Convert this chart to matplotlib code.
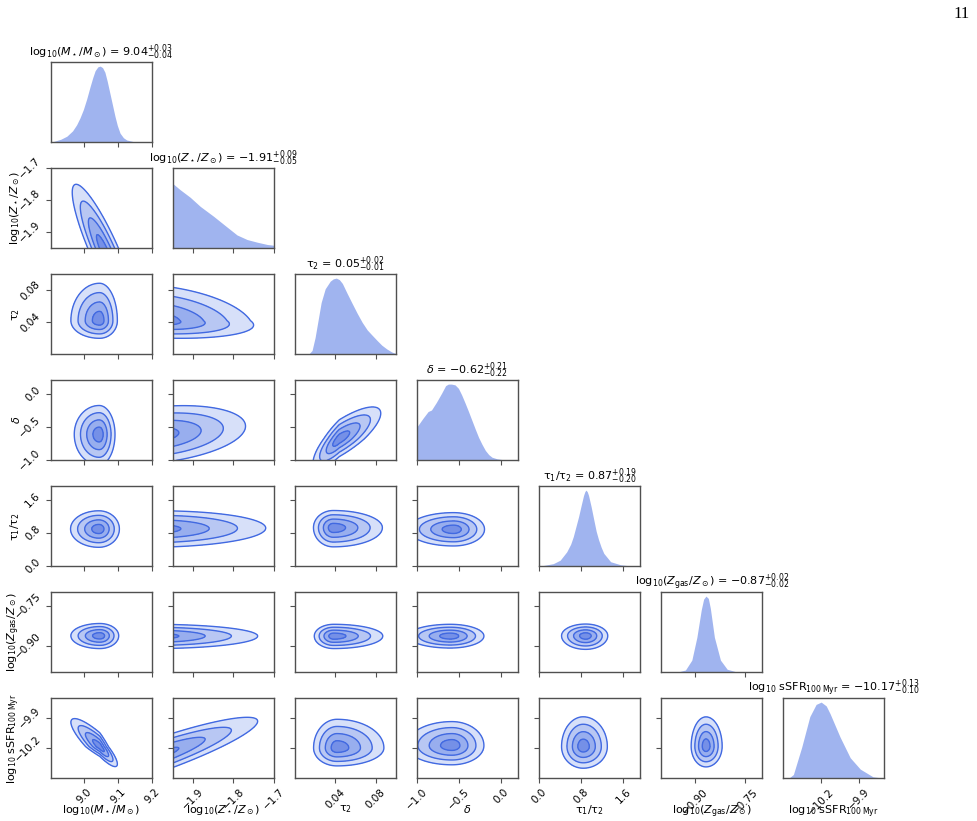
import numpy as np
import matplotlib
matplotlib.use("Agg")
import matplotlib.pyplot as plt

# Parameter labels, plot ranges and ticks
labels = [r"log$_{10}(M_\star/M_\odot)$", r"log$_{10}(Z_\star/Z_\odot)$", r"τ$_2$", r"$\delta$",
          r"τ$_1$/τ$_2$", r"log$_{10}(Z_{\rm gas}/Z_\odot)$", r"log$_{10}$ sSFR$_{100\,\rm Myr}$"]
lo = [8.9, -1.95, 0.0, -1.0, 0.0, -1.0, -10.5]
hi = [9.2, -1.70, 0.10, 0.2, 1.92, -0.70, -9.7]
ticks = [[9.0, 9.1, 9.2], [-1.9, -1.8, -1.7], [0.04, 0.08], [-1.0, -0.5, 0.0],
         [0.0, 0.8, 1.6], [-0.90, -0.75], [-10.2, -9.9]]
tick_labels = [["9.0", "9.1", "9.2"], ["−1.9", "−1.8", "−1.7"], ["0.04", "0.08"],
               ["−1.0", "−0.5", "0.0"], ["0.0", "0.8", "1.6"], ["−0.90", "−0.75"],
               ["−10.2", "−9.9"]]

# Median and credible interval shown in the titles
med = ["9.04", "-1.91", "0.05", "-0.62", "0.87", "-0.87", "-10.17"]
err_hi = ["0.03", "0.09", "0.02", "0.21", "0.19", "0.02", "0.13"]
err_lo = ["0.04", "0.05", "0.01", "0.22", "0.20", "0.02", "0.10"]

# 1D marginals (relative density)
m_x = [8.90, 8.908, 8.93, 8.948, 8.965, 8.977, 8.987, 8.997, 9.007, 9.017, 9.025, 9.032, 9.040,
       9.047, 9.054, 9.061, 9.068, 9.076, 9.084, 9.091, 9.098, 9.106, 9.116, 9.126, 9.145, 9.165, 9.20]
m_y = [0.005, 0.01, 0.04, 0.08, 0.15, 0.23, 0.32, 0.43, 0.57, 0.73, 0.85, 0.94, 0.99,
       1.0, 0.98, 0.92, 0.80, 0.64, 0.48, 0.34, 0.22, 0.12, 0.06, 0.03, 0.01, 0.0, 0.0]
z_x = [-1.95, -1.932, -1.907, -1.882, -1.849, -1.816, -1.791, -1.766, -1.741, -1.716, -1.70]
z_y = [0.85, 0.77, 0.67, 0.55, 0.42, 0.28, 0.175, 0.115, 0.08, 0.05, 0.04]
t2_x = [0.0, 0.0135, 0.017, 0.020, 0.023, 0.026, 0.030, 0.035, 0.038, 0.041, 0.044, 0.047,
        0.0517, 0.0566, 0.0616, 0.0666, 0.0716, 0.0765, 0.0815, 0.086, 0.091, 0.096, 0.10]
t2_y = [0.0, 0.0, 0.05, 0.22, 0.45, 0.68, 0.86, 0.96, 0.99, 1.0, 0.98, 0.93, 0.80, 0.67, 0.54,
        0.42, 0.32, 0.25, 0.18, 0.12, 0.07, 0.03, 0.01]
d_x = [-1.0, -0.93, -0.868, -0.828, -0.77, -0.708, -0.66, -0.628, -0.59, -0.548, -0.508, -0.47,
       -0.428, -0.388, -0.348, -0.308, -0.268, -0.228, -0.188, -0.148, -0.108, -0.05, 0.012, 0.2]
d_y = [0.44, 0.55, 0.64, 0.66, 0.76, 0.88, 0.98, 1.0, 1.0, 0.99, 0.945, 0.86, 0.75, 0.64, 0.525,
       0.41, 0.30, 0.21, 0.13, 0.075, 0.04, 0.02, 0.01, 0.0]
r_x = [0.0, 0.077, 0.27, 0.40, 0.525, 0.60, 0.65, 0.70, 0.75, 0.80, 0.845, 0.87, 0.89, 0.915,
       0.94, 0.99, 1.04, 1.085, 1.13, 1.18, 1.23, 1.36, 1.55, 1.80, 1.92]
r_y = [0.0, 0.01, 0.035, 0.08, 0.19, 0.29, 0.39, 0.52, 0.65, 0.80, 0.93, 0.98, 1.0, 0.98,
       0.93, 0.78, 0.61, 0.46, 0.35, 0.25, 0.17, 0.06, 0.02, 0.0, 0.0]
g_x = [-1.0, -0.95, -0.928, -0.909, -0.894, -0.881, -0.874, -0.867, -0.860, -0.854, -0.842,
       -0.824, -0.804, -0.78, -0.70]
g_y = [0.0, 0.005, 0.03, 0.16, 0.46, 0.82, 0.96, 1.0, 0.97, 0.84, 0.46, 0.16, 0.04, 0.01, 0.0]
s_x = [-10.5, -10.45, -10.42, -10.354, -10.29, -10.24, -10.2, -10.16, -10.13, -10.05, -9.97,
       -9.89, -9.79, -9.7]
s_y = [0.0, 0.01, 0.05, 0.41, 0.81, 0.97, 1.0, 0.95, 0.85, 0.54, 0.27, 0.12, 0.02, 0.0]
marg_x = [m_x, z_x, t2_x, d_x, r_x, g_x, s_x]
marg_y = [m_y, z_y, t2_y, d_y, r_y, g_y, s_y]

# 2D panels: centre, split widths and correlation of each joint posterior
pair_row = [1, 2, 3, 4, 5, 6, 2, 3, 4, 5, 6, 3, 4, 5, 6, 4, 5, 6, 5, 6, 6]
pair_col = [0, 0, 0, 0, 0, 0, 1, 1, 1, 1, 1, 2, 2, 2, 2, 3, 3, 3, 4, 4, 5]
cen_x = [9.06, 9.045, 9.044, 9.043, 9.046, 9.046, -1.99, -1.99, -2.0, -2.0, -2.0,
         0.044, 0.038, 0.0384, 0.0417, -0.566, -0.605, -0.585, 0.885, 0.839, -0.867]
cen_y = [-1.96, 0.042, -0.61, 0.896, -0.863, -10.183, 0.042, -0.62, 0.896, -0.864, -10.29,
         -0.68, 0.927, -0.864, -10.196, 0.888, -0.864, -10.173, -0.863, -10.183, -10.18]
wx_lo = [0.048, 0.0425, 0.037, 0.042, 0.043, 0.043, 0.12, 0.11, 0.14, 0.13, 0.13,
         0.013, 0.0098, 0.0096, 0.0116, 0.27, 0.25, 0.27, 0.229, 0.206, 0.022]
wx_hi = [0.048, 0.0265, 0.0235, 0.0305, 0.028, 0.026, 0.12, 0.11, 0.14, 0.13, 0.13,
         0.0205, 0.0243, 0.0243, 0.0232, 0.184, 0.20, 0.19, 0.21, 0.229, 0.024]
wy_lo = [0.105, 0.011, 0.23, 0.22, 0.024, 0.10, 0.011, 0.22, 0.22, 0.0235, 0.2,
         0.22, 0.23, 0.0235, 0.09, 0.20, 0.0225, 0.096, 0.0255, 0.108, 0.103]
wy_hi = [0.105, 0.0234, 0.216, 0.218, 0.023, 0.14, 0.0228, 0.22, 0.218, 0.022, 0.2,
         0.24, 0.206, 0.022, 0.143, 0.20, 0.022, 0.12, 0.022, 0.149, 0.147]
corr = [-0.88, 0.0, 0.0, 0.0, 0.0, -0.87, -0.25, 0.3, 0.05, 0.0, 0.9,
        0.8, 0.0, 0.0, 0.0, 0.0, 0.0, 0.0, 0.0, 0.0, 0.0]

sigma_levels = [2.0, 1.5, 1.0, 0.5]
band_colors = ["#d7e0f9", "#b8c7f3", "#98aeee", "#7590e7"]
line_color = "#4169e1"
fill_color = "#a0b4ef"

W, H = 978, 821
fig = plt.figure(figsize=(W / 100, H / 100), dpi=100)
n = len(labels)
left0, dx, pw = 50.7, 122.1, 101
top0, dy, ph = 62.3, 106, 80


def make_ax(i, j):
    ax = fig.add_axes([(left0 + j * dx) / W, 1 - (top0 + i * dy + ph) / H, pw / W, ph / H])
    for s in ax.spines.values():
        s.set_color("#505050")
        s.set_linewidth(1.0)
    ax.tick_params(direction="out", length=3.5, width=0.8, color="#505050", labelsize=7.5, pad=2.5)
    return ax


def style_x(ax, i, j):
    ax.set_xlim(lo[j], hi[j])
    ax.set_xticks(ticks[j])
    if i == n - 1:
        ax.set_xticklabels(tick_labels[j], rotation=45, ha="center")
        ax.set_xlabel(labels[j], fontsize=8)
        ax.xaxis.set_label_coords(0.5, -0.31)
    else:
        ax.set_xticklabels([])


for i in range(n):
    ax = make_ax(i, i)
    ax.fill_between(marg_x[i], 0, marg_y[i], color=fill_color, lw=0)
    ax.set_ylim(0, 1.05)
    ax.set_yticks([])
    style_x(ax, i, i)
    title = labels[i] + " = " + r"$%s^{+%s}_{-%s}$" % (med[i].replace("-", "−"), err_hi[i], err_lo[i])
    ax.set_title(title, fontsize=8, pad=1.5)

lev = np.exp(-0.5 * np.array(sigma_levels) ** 2)
for k in range(len(pair_row)):
    i, j = pair_row[k], pair_col[k]
    ax = make_ax(i, j)
    gx = np.linspace(lo[j], hi[j], 300)
    gy = np.linspace(lo[i], hi[i], 300)
    X, Y = np.meshgrid(gx, gy)
    u = (X - cen_x[k]) / np.where(X < cen_x[k], wx_lo[k], wx_hi[k])
    v = (Y - cen_y[k]) / np.where(Y < cen_y[k], wy_lo[k], wy_hi[k])
    r = corr[k]
    D = np.exp(-0.5 * (u * u - 2 * r * u * v + v * v) / (1 - r * r))
    ax.contourf(X, Y, D, levels=list(lev) + [1.01], colors=band_colors)
    ax.contour(X, Y, D, levels=lev, colors=line_color, linewidths=1.0)
    style_x(ax, i, j)
    ax.set_ylim(lo[i], hi[i])
    ax.set_yticks(ticks[i])
    if j == 0:
        ax.set_yticklabels(tick_labels[i], rotation=45, va="center")
        ax.set_ylabel(labels[i], fontsize=8)
        ax.yaxis.set_label_coords(-0.28, 0.5)
    else:
        ax.set_yticklabels([])

fig.text(962 / W, 1 - 14 / H, "11", family="Liberation Serif", fontsize=12, ha="center", va="center")
fig.savefig("out.png", dpi=100)
